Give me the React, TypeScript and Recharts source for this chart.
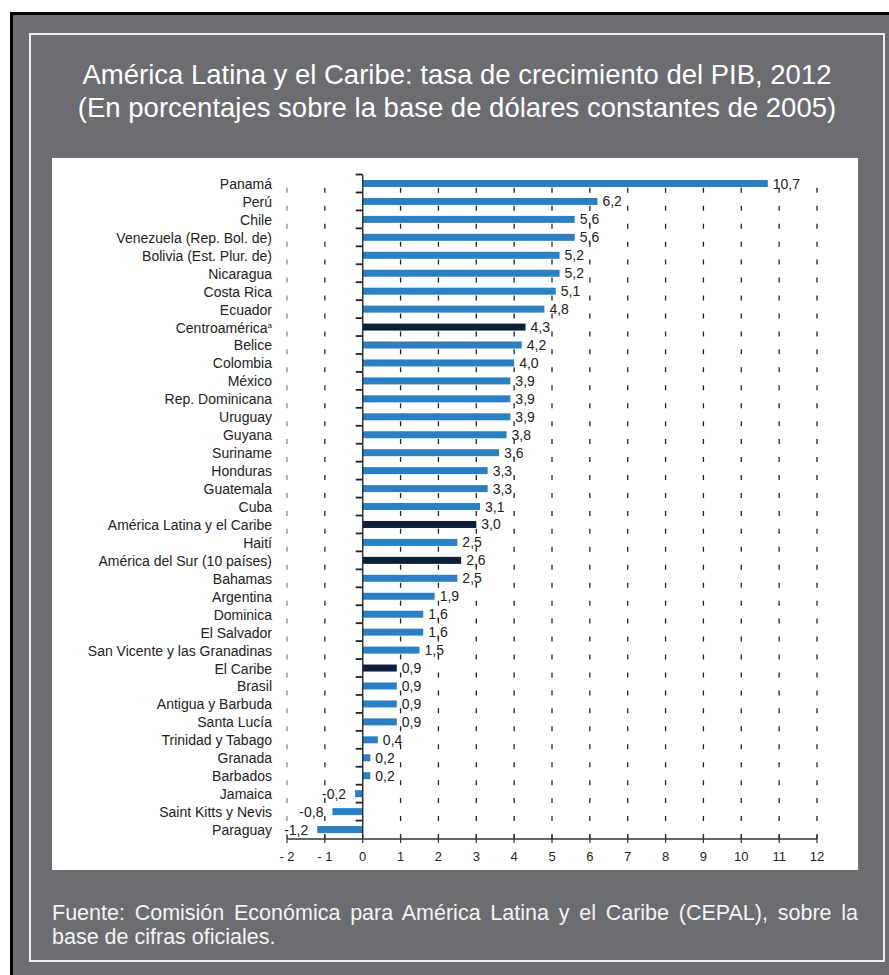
import React from "react";
import { BarChart, Bar, XAxis, YAxis, ReferenceLine, LabelList, Cell } from "recharts";

const categories = [
  "Panamá",
  "Perú",
  "Chile",
  "Venezuela (Rep. Bol. de)",
  "Bolivia (Est. Plur. de)",
  "Nicaragua",
  "Costa Rica",
  "Ecuador",
  "Centroamérica",
  "Belice",
  "Colombia",
  "México",
  "Rep. Dominicana",
  "Uruguay",
  "Guyana",
  "Suriname",
  "Honduras",
  "Guatemala",
  "Cuba",
  "América Latina y el Caribe",
  "Haití",
  "América del Sur (10 países)",
  "Bahamas",
  "Argentina",
  "Dominica",
  "El Salvador",
  "San Vicente y las Granadinas",
  "El Caribe",
  "Brasil",
  "Antigua y Barbuda",
  "Santa Lucía",
  "Trinidad y Tabago",
  "Granada",
  "Barbados",
  "Jamaica",
  "Saint Kitts y Nevis",
  "Paraguay",
];

const growth = [
  10.7, 6.2, 5.6, 5.6, 5.2, 5.2, 5.1, 4.8, 4.3, 4.2, 4.0, 3.9, 3.9, 3.9, 3.8, 3.6, 3.3, 3.3, 3.1,
  3.0, 2.5, 2.6, 2.5, 1.9, 1.6, 1.6, 1.5, 0.9, 0.9, 0.9, 0.9, 0.4, 0.2, 0.2, -0.2, -0.8, -1.2,
];

const aggregates = ["Centroamérica", "América Latina y el Caribe", "América del Sur (10 países)", "El Caribe"];
const footnoteMarks: Record<string, string> = { "Centroamérica": "a" };

const xTicks = [-2, -1, 0, 1, 2, 3, 4, 5, 6, 7, 8, 9, 10, 11, 12];
const gridTicks = [-1, 1, 2, 3, 4, 5, 6, 7, 8, 9, 10, 11, 12];

const data = categories.map((name, i) => ({ name, value: growth[i] }));

const FONT = "'Liberation Sans', Arial, sans-serif";
const BLUE = "#2a80c3";
const NAVY = "#0b1f38";
const GRAY = "#6c6d71";

const CHART_W = 806;
const CHART_H = 712;
const MARGIN = { top: 17, right: 41, left: 0, bottom: 0 };
const XAXIS_H = 31;
// height of one category band, used to put the axis ticks between bars
const BAND = (CHART_H - MARGIN.top - XAXIS_H) / categories.length;

const fmt = (v: number) => v.toFixed(1).replace(".", ",");

const CategoryTick = (props: any) => {
  const { x, y, payload } = props;
  const mark = footnoteMarks[payload.value];
  return (
    <text x={x} y={y} dy={5} textAnchor="end" fontSize={14} fill="#222" fontFamily={FONT}>
      {payload.value}
      {mark && (
        <tspan fontSize={8} dy={-5}>
          {mark}
        </tspan>
      )}
    </text>
  );
};

const ValueTick = (props: any) => {
  const { x, y, payload } = props;
  const v = payload.value as number;
  return (
    <g>
      <line x1={x} x2={x} y1={y - 12} y2={y - 4} stroke="#333" strokeWidth={1.2} />
      <text x={x} y={y + 14} textAnchor="middle" fontSize={13} fill="#222" fontFamily={FONT}>
        {v < 0 ? `- ${Math.abs(v)}` : String(v)}
      </text>
    </g>
  );
};

// bar plus the small axis tick on the zero line at the top of its band
const BarWithTick = (props: any) => {
  const { x, y, width, height, fill } = props;
  const bandTop = y + height / 2 - BAND / 2;
  return (
    <g>
      <line x1={x - 7} x2={x} y1={bandTop} y2={bandTop} stroke="#222" strokeWidth={1.8} />
      <rect x={Math.min(x, x + width)} y={y} width={Math.abs(width)} height={height} fill={fill} />
    </g>
  );
};

const ValueLabel = (props: any) => {
  const { x, y, width, height, value } = props;
  const neg = value < 0;
  return (
    <text
      x={neg ? x + width - 9 : x + width + 5}
      y={y + height / 2 + 5}
      textAnchor={neg ? "end" : "start"}
      fontSize={14}
      fill="#222"
      fontFamily={FONT}
    >
      {fmt(value)}
    </text>
  );
};

export default function App() {
  return (
    <div style={{ position: "absolute", left: 0, top: 0, width: 889, height: 975, background: "#fff", overflow: "hidden" }}>
      <div
        style={{
          position: "absolute",
          left: 10,
          top: 12,
          width: 889,
          height: 975,
          background: GRAY,
          borderLeft: "3px solid #000",
          borderTop: "3px solid #000",
        }}
      />
      <div
        style={{
          position: "absolute",
          left: 29,
          top: 33,
          width: 852,
          height: 925,
          border: "2px solid #ececec",
        }}
      />
      <div
        style={{
          position: "absolute",
          left: 29,
          top: 58,
          width: 856,
          textAlign: "center",
          color: "#fff",
          fontFamily: FONT,
          fontSize: 27.5,
          lineHeight: "33px",
          whiteSpace: "nowrap",
        }}
      >
        América Latina y el Caribe: tasa de crecimiento del PIB, 2012
        <br />
        (En porcentajes sobre la base de dólares constantes de 2005)
      </div>
      <div style={{ position: "absolute", left: 52, top: 158, width: CHART_W, height: CHART_H, background: "#fff" }}>
        <BarChart width={CHART_W} height={CHART_H} data={data} layout="vertical" margin={MARGIN}>
          <XAxis
            type="number"
            domain={[-2, 12]}
            ticks={xTicks}
            interval={0}
            axisLine={{ stroke: "#333", strokeWidth: 1.5 }}
            tickLine={false}
            tickSize={4}
            tickMargin={4}
            height={XAXIS_H}
            tick={<ValueTick />}
          />
          <YAxis
            type="category"
            dataKey="name"
            width={235}
            interval={0}
            axisLine={false}
            tickLine={false}
            tickSize={0}
            tickMargin={15}
            tick={<CategoryTick />}
          />
          <ReferenceLine x={-2} stroke="#8a8a8a" strokeWidth={1.3} strokeDasharray="5 12.95" />
          {gridTicks.map((t) => (
            <ReferenceLine key={t} x={t} stroke="#222" strokeWidth={1.3} strokeDasharray="5 12.95" />
          ))}
          <ReferenceLine x={0} stroke="#333" strokeWidth={1.5} />
          <Bar dataKey="value" barSize={7} isAnimationActive={false} shape={<BarWithTick />}>
            {data.map((d) => (
              <Cell key={d.name} fill={aggregates.includes(d.name) ? NAVY : BLUE} />
            ))}
            <LabelList dataKey="value" content={<ValueLabel />} />
          </Bar>
        </BarChart>
      </div>
      <div
        style={{
          position: "absolute",
          left: 52,
          top: 901,
          width: 806,
          color: "#f4f4f4",
          fontFamily: FONT,
          fontSize: 21.5,
          lineHeight: "24px",
          textAlign: "justify",
        }}
      >
        Fuente: Comisión Económica para América Latina y el Caribe (CEPAL), sobre la base de cifras oficiales.
      </div>
    </div>
  );
}
